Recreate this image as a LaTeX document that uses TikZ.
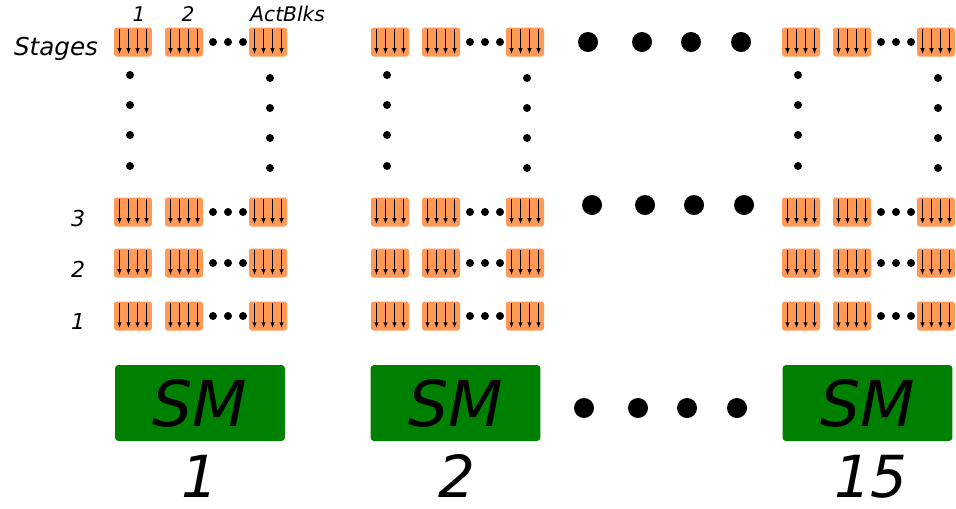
\documentclass[tikz,border=0pt]{standalone}
\usepackage{fontspec}
\setmainfont{DejaVu Sans}
\usetikzlibrary{positioning,arrows.meta}

\definecolor{blkorange}{RGB}{255,153,85}
\definecolor{smgreen}{RGB}{0,128,0}

\tikzset{
  actblk/.style={rectangle, rounded corners=1.5pt, fill=blkorange, minimum width=0.76cm, minimum height=0.58cm, inner sep=0pt},
  smbox/.style={rectangle, rounded corners=2pt, fill=smgreen, minimum width=3.4cm, minimum height=1.52cm, inner sep=0pt, font=\fontsize{36}{36}\selectfont\itshape},
  smnum/.style={anchor=base, inner sep=0pt, font=\fontsize{33}{33}\selectfont\itshape},
  lbl/.style={anchor=base, inner sep=0pt, font=\fontsize{11.5}{11.5}\selectfont\itshape},
}

\begin{document}
\begin{tikzpicture}[x=0.02cm, y=-0.02cm]
\useasboundingbox (0,0) rectangle (956,508);

% stage rows of active blocks, one group per SM
\foreach \grp/\dx in {1/0, 2/257, 15/668} {
  \foreach \row/\y in {s/42, 3/212, 2/263, 1/316} {
    \foreach \blk/\bx in {1/133, 2/184, n/268} {
      \node[actblk] (blk-\grp-\row-\blk) at (\bx+\dx,\y) {};
      \foreach \ax in {-0.27,-0.09,0.09,0.27}
        \draw[-{Latex[length=3.4pt,width=2.6pt]}, line width=0.75pt] ([xshift=\ax cm, yshift=-1pt]blk-\grp-\row-\blk.north) -- ([xshift=\ax cm, yshift=1.5pt]blk-\grp-\row-\blk.south);
    }
    \foreach \px in {213,228,243}
      \fill (\px+\dx,\y) circle (4);
  }
  % dots down the first and last column
  \foreach \py in {75,105,135,166}
    \fill (130+\dx,\py) circle (4);
  \foreach \py in {78,108,138,168}
    \fill (270+\dx,\py) circle (4);
}

% big dots between the groups
\foreach \px in {588,642,691,741}
  \fill (\px,42) circle (10);
\foreach \px in {592,645,694,744}
  \fill (\px,205) circle (10);
\foreach \px in {584,638,687,737}
  \fill (\px,408) circle (10);

\node[smbox] (sm1) at (200,403) {SM};
\node[smbox] (sm2) at (455.5,403) {SM};
\node[smbox] (sm15) at (867.5,403) {SM};

\node[smnum] (num1) at (200,497) {1};
\node[smnum] (num2) at (457,497) {2};
\node[smnum] (num15) at (871,497) {15};

\node[lbl, font=\fontsize{14}{14}\selectfont\itshape] (stages) at (56,55) {Stages};
\node[lbl] (col1) at (139,21) {1};
\node[lbl] (col2) at (188,21) {2};
\node[lbl, anchor=base west] (colact) at (250,21) {ActBlks};
\node[lbl, font=\fontsize{12.5}{12.5}\selectfont\itshape] (row3) at (78,226) {3};
\node[lbl, font=\fontsize{12.5}{12.5}\selectfont\itshape] (row2) at (78,277) {2};
\node[lbl, font=\fontsize{12.5}{12.5}\selectfont\itshape] (row1) at (78,329) {1};
\end{tikzpicture}
\end{document}
